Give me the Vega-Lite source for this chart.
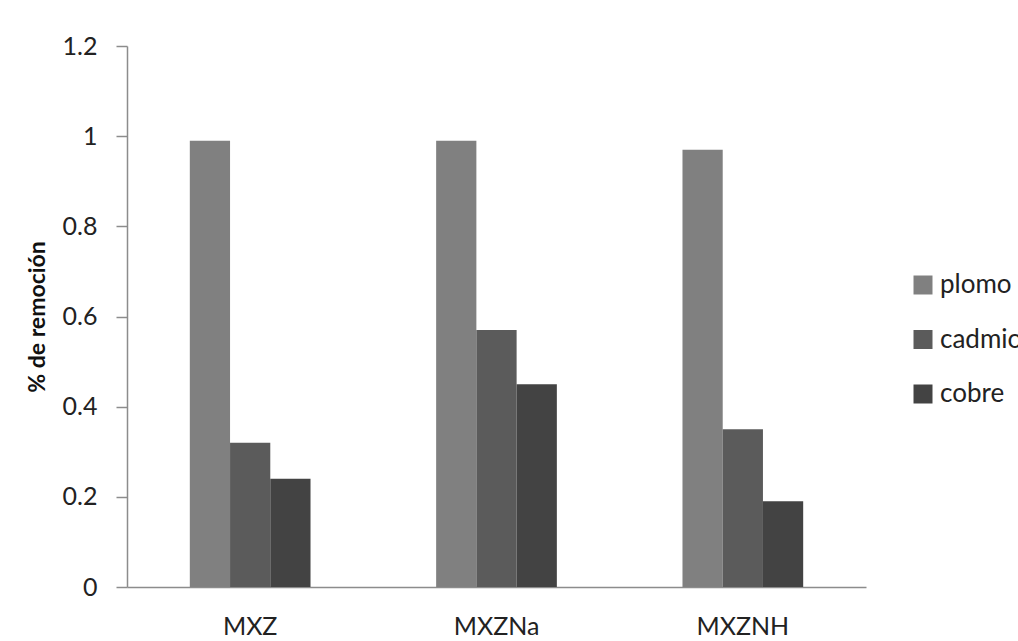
{
  "$schema": "https://vega.github.io/schema/vega-lite/v6.json",
  "autosize": {"type": "none"},
  "width": 739,
  "height": 541,
  "padding": {"left": 127, "top": 46, "right": 152, "bottom": 54},
  "background": "white",
  "config": {
    "font": "Lato",
    "view": {"stroke": null}
  },
  "data": {
    "values": [
      {"material": "MXZ", "metal": "plomo", "remocion": 0.99},
      {"material": "MXZ", "metal": "cadmio", "remocion": 0.32},
      {"material": "MXZ", "metal": "cobre", "remocion": 0.24},
      {"material": "MXZNa", "metal": "plomo", "remocion": 0.99},
      {"material": "MXZNa", "metal": "cadmio", "remocion": 0.57},
      {"material": "MXZNa", "metal": "cobre", "remocion": 0.45},
      {"material": "MXZNH", "metal": "plomo", "remocion": 0.97},
      {"material": "MXZNH", "metal": "cadmio", "remocion": 0.35},
      {"material": "MXZNH", "metal": "cobre", "remocion": 0.19}
    ]
  },
  "mark": {"type": "bar"},
  "encoding": {
    "x": {
      "field": "material",
      "type": "nominal",
      "sort": ["MXZ", "MXZNa", "MXZNH"],
      "scale": {"paddingInner": 0.51, "paddingOuter": 0.255},
      "axis": {
        "title": null,
        "labelAngle": 0,
        "ticks": false,
        "domainColor": "#8c8c8c",
        "domainWidth": 1.5,
        "labelFontSize": 25,
        "labelColor": "#222222",
        "labelPadding": 27
      }
    },
    "xOffset": {
      "field": "metal",
      "type": "nominal",
      "sort": ["plomo", "cadmio", "cobre"],
      "scale": {"paddingInner": 0, "paddingOuter": 0}
    },
    "y": {
      "field": "remocion",
      "type": "quantitative",
      "scale": {"domain": [0, 1.2]},
      "axis": {
        "title": "% de remoción",
        "titleFontSize": 23,
        "titleFontWeight": "bold",
        "titleColor": "#111111",
        "titlePadding": 13,
        "values": [0, 0.2, 0.4, 0.6, 0.8, 1, 1.2],
        "format": "~g",
        "grid": false,
        "tickSize": 11,
        "tickColor": "#8c8c8c",
        "domainColor": "#8c8c8c",
        "domainWidth": 1.5,
        "tickWidth": 1.5,
        "labelFontSize": 25,
        "labelColor": "#222222",
        "labelPadding": 19
      }
    },
    "color": {
      "field": "metal",
      "type": "nominal",
      "sort": ["plomo", "cadmio", "cobre"],
      "scale": {"domain": ["plomo", "cadmio", "cobre"], "range": ["#808080", "#5b5b5b", "#434343"]},
      "legend": {
        "title": null,
        "orient": "none",
        "legendX": 783,
        "legendY": 226,
        "symbolType": "square",
        "symbolSize": 361,
        "symbolStrokeWidth": 0,
        "labelFontSize": 26,
        "labelColor": "#222222",
        "labelOffset": 4,
        "rowPadding": 28.5
      }
    }
  }
}
